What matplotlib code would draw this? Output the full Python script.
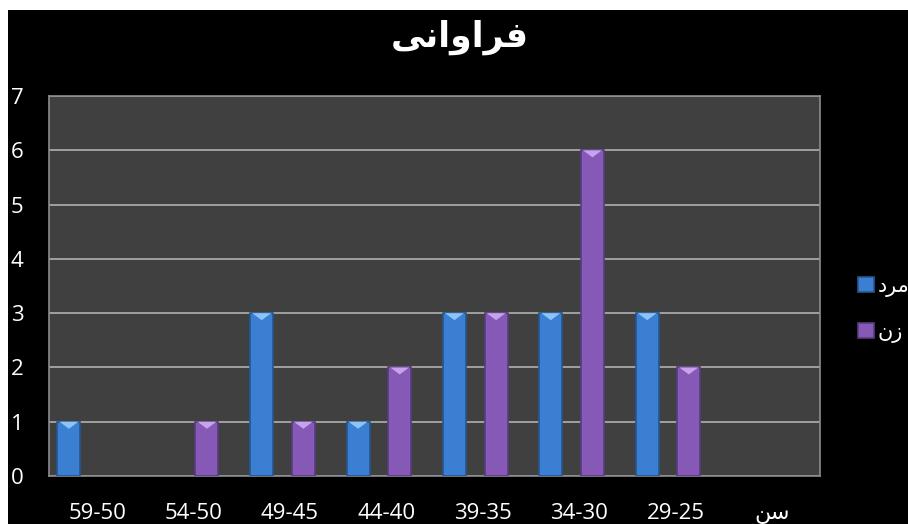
import matplotlib
matplotlib.use('Agg')
import matplotlib.pyplot as plt
from matplotlib.patches import Rectangle, Polygon
import numpy as np

# age groups (the last one is the axis caption "سن" = age, left empty)
categories = ['59-50', '54-50', '49-45', '44-40', '39-35', '34-30', '29-25', '\uFEE6\uFEB3']
men = [1, 0, 3, 1, 3, 3, 3, 0]      # مرد
women = [0, 1, 1, 2, 3, 6, 2, 0]    # زن
series_names = ['\uFEA9\uFEAE\uFEE3', '\uFEE5\uFEAF']   # مرد , زن (shaped, visual order)
title = '\uFBFD\uFEE7\uFE8D\uFEED\uFE8D\uFEAE\uFED3'     # فراوانی
yticks = [0, 1, 2, 3, 4, 5, 6, 7]

blue = '#3b7fd2'
blue_edge = '#24578f'
blue_top = '#8cc4f7'
purple = '#8659b6'
purple_edge = '#5a3b80'
purple_top = '#c7a2ee'

fig = plt.figure(figsize=(9.08, 5.24), dpi=100)
fig.patch.set_facecolor('black')
# white margins at the top and left of the screenshot
fig.patches.append(Rectangle((0, 1 - 10 / 524), 1, 10 / 524, transform=fig.transFigure,
                             facecolor='white', edgecolor='none', zorder=-1))
fig.patches.append(Rectangle((0, 0), 8 / 908, 1, transform=fig.transFigure,
                             facecolor='white', edgecolor='none', zorder=-1))

ax = fig.add_axes([49 / 908, 48 / 524, 771 / 908, 380 / 524])
ax.set_facecolor('#404040')

x = np.arange(len(categories))
w = 0.238
b1 = ax.bar(x - 0.293, men, w, color=blue, edgecolor=blue_edge, linewidth=1.2, zorder=3)
b2 = ax.bar(x + 0.139, women, w, color=purple, edgecolor=purple_edge, linewidth=1.2, zorder=3)

# bevel highlight on the top of each bar, empty bars drawn as nothing
for bars, c in ((b1, blue_top), (b2, purple_top)):
    for p in bars:
        h = p.get_height()
        if h <= 0:
            p.set_visible(False)
            continue
        x0 = p.get_x()
        pw = p.get_width()
        tri = Polygon([(x0 + 0.02, h), (x0 + pw - 0.02, h), (x0 + pw / 2, h - 0.13)],
                      closed=True, facecolor=c, edgecolor='none', zorder=4)
        ax.add_patch(tri)

ax.set_xlim(-0.5, len(categories) - 0.5)
ax.set_ylim(0, 7)
ax.set_yticks(yticks)
ax.set_xticks(x)
ax.set_xticklabels(categories)
ax.grid(axis='y', color='#a8a8a8', linewidth=1.3, zorder=1)
ax.set_axisbelow(True)
for s in ax.spines.values():
    s.set_color('#8c8c8c')
    s.set_linewidth(1.2)

ax.tick_params(axis='both', length=0, colors='white')
ax.tick_params(axis='y', pad=18.5)
ax.tick_params(axis='x', pad=19.5)
for lab in ax.get_yticklabels():
    lab.set_fontfamily(['Open Sans', 'DejaVu Sans'])
    lab.set_fontsize(16)
for lab in ax.get_xticklabels():
    lab.set_fontfamily(['Open Sans', 'DejaVu Sans'])
    lab.set_fontsize(16)

fig.text(460 / 908, 1 - 37 / 524, title, color='white', fontsize=25, fontweight='bold',
         family=['DejaVu Sans'], ha='center', va='center')

handles = [Rectangle((0, 0), 1, 1, facecolor=blue, edgecolor=blue_edge, linewidth=1.2),
           Rectangle((0, 0), 1, 1, facecolor=purple, edgecolor=purple_edge, linewidth=1.2)]
leg = fig.legend(handles=handles, labels=series_names, loc='upper left',
                 bbox_to_anchor=(858 / 908, 1 - 276 / 524), frameon=False,
                 prop={'family': 'DejaVu Sans', 'size': 15}, labelcolor='white',
                 handlelength=0.75, handleheight=0.7, handletextpad=0.2,
                 labelspacing=1.2, borderpad=0, borderaxespad=0)

fig.savefig('out.png', dpi=100, facecolor=fig.get_facecolor())
